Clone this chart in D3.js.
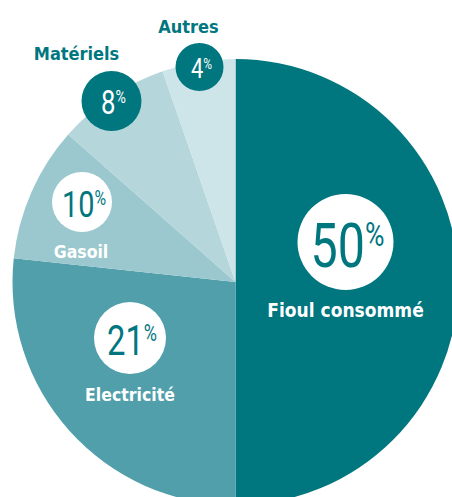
<!DOCTYPE html>
<html>
<head>
<meta charset="utf-8">
<script src="https://cdn.jsdelivr.net/npm/d3@7"></script>
<style>
  body { margin: 0; background: #fff; }
  .pctTxt { font-family: Roboto, "Open Sans", sans-serif; font-weight: 400; }
  .nameTxt { font-family: "DejaVu Sans Condensed", "DejaVu Sans", sans-serif; font-stretch: condensed; font-weight: bold; }
</style>
</head>
<body>
<div id="pie_chart"></div>
<script>
// categories, clockwise from 12 o'clock
var categories = ["Fioul consommé", "Electricité", "Gasoil", "Matériels", "Autres"];
// share of the circle as drawn
var sliceShares = [50, 26.7, 9.8, 8.2, 5.3];
// percentages printed in the bubbles
var pctLabels = [50, 21, 10, 8, 4];

var sliceColors = ["#00767f", "#509fab", "#9bc8ce", "#b5d7dc", "#cde4e8"];

// bubble layout, offsets from the pie centre
var bubbles = [
  {dx: 110,    dy: -40,  r: 48, fs: 62, fill: "#fff",    txt: "#00767f", nameDx: 0,   nameDy: 68,  nameFill: "#fff",    nameFs: 19},
  {dx: -105.5, dy: 56,   r: 36, fs: 42, fill: "#fff",    txt: "#00767f", nameDx: 0,   nameDy: 57,  nameFill: "#fff",    nameFs: 17.5},
  {dx: -153.5, dy: -80,  r: 30, fs: 37, fill: "#fff",    txt: "#00767f", nameDx: -1,  nameDy: 50,  nameFill: "#fff",    nameFs: 17.5},
  {dx: -124,   dy: -181, r: 30, fs: 33, fill: "#00767f", txt: "#fff",    nameDx: -35, nameDy: -48, nameFill: "#00767f", nameFs: 18},
  {dx: -36,    dy: -215, r: 24, fs: 28, fill: "#00767f", txt: "#fff",    nameDx: -11, nameDy: -41, nameFill: "#00767f", nameFs: 18}
];

(function () {
  'use strict'

  var width = 452, height = 497;
  var cx = 235.5, cy = 282, radius = 223;

  var svg = d3.select("#pie_chart").append("svg")
    .attr("width", width)
    .attr("height", height)
    .append("g")
    .attr("transform", "translate(" + cx + "," + cy + ")");

  var pieData = categories.map(function(c, i){
    return {name: c, share: sliceShares[i], pct: pctLabels[i], color: sliceColors[i], lay: bubbles[i]};
  });

  var pie = d3.pie().sort(null).value(function(d){ return d.share; });
  var arc = d3.arc().innerRadius(0).outerRadius(radius);

  svg.selectAll(".slice")
    .data(pie(pieData))
    .enter().append("path")
    .attr("class", "slice")
    .attr("d", arc)
    .attr("fill", function(d){ return d.data.color; });

  var lbl = svg.selectAll(".lbl")
    .data(pieData)
    .enter().append("g")
    .attr("class", "lbl")
    .attr("transform", function(d){ return "translate(" + d.lay.dx + "," + d.lay.dy + ")"; });

  lbl.append("circle")
    .attr("r", function(d){ return d.lay.r; })
    .attr("fill", function(d){ return d.lay.fill; });

  var pct = lbl.append("text")
    .attr("class", "pctTxt")
    .attr("text-anchor", "middle")
    .attr("transform", function(d){ return "translate(2," + (d.lay.fs * 0.4) + ") scale(0.78,1)"; })
    .attr("fill", function(d){ return d.lay.txt; })
    .style("font-size", function(d){ return d.lay.fs + "px"; });
  pct.append("tspan").text(function(d){ return d.pct; });
  pct.append("tspan")
    .attr("dy", function(d){ return -d.lay.fs * 0.33; })
    .style("font-size", function(d){ return (d.lay.fs * 0.55) + "px"; })
    .text("%");

  lbl.append("text")
    .attr("class", "nameTxt")
    .attr("text-anchor", "middle")
    .attr("dominant-baseline", "central")
    .attr("x", function(d){ return d.lay.nameDx; })
    .attr("y", function(d){ return d.lay.nameDy; })
    .attr("fill", function(d){ return d.lay.nameFill; })
    .style("font-size", function(d){ return d.lay.nameFs + "px"; })
    .text(function(d){ return d.name; });

})()
</script>
</body>
</html>
